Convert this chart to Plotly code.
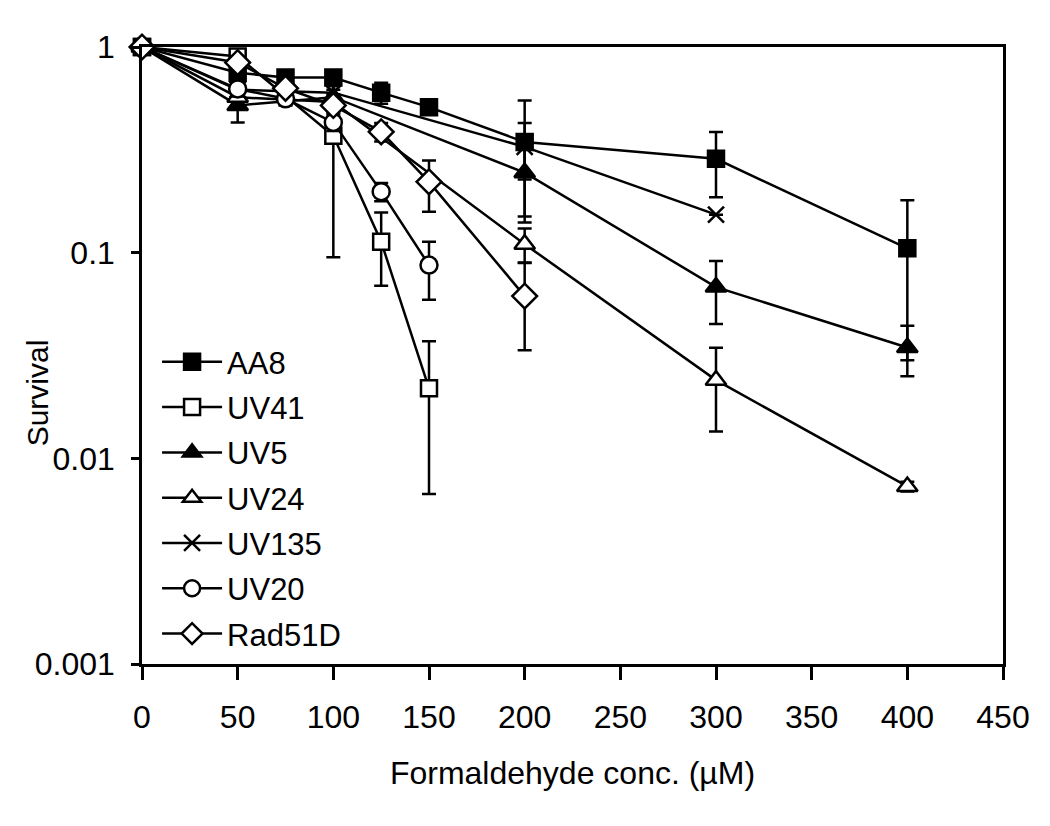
import plotly.graph_objects as go

NaN = None

# ---- data ----
x_aa8 = [0, 50, 75, 100, 125, 150, 200, 300, 400]
aa8 = [1, 0.75, 0.71, 0.71, 0.60, 0.51, 0.345, 0.286, 0.105]
aa8_err = [NaN, 0.05, 0.04, 0.05, 0.07, 0.03, 0.205, 0.10, 0.075]

x_uv41 = [0, 50, 100, 125, 150]
uv41 = [1, 0.90, 0.37, 0.113, 0.0219]
uv41_err = [NaN, 0.05, 0.275, 0.044, 0.0152]

x_uv5 = [0, 50, 100, 200, 300, 400]
uv5 = [1, 0.52, 0.57, 0.245, 0.068, 0.0346]
uv5_err = [NaN, 0.09, 0.05, 0.095, 0.023, 0.0095]

x_uv24 = [0, 50, 100, 200, 300, 400]
uv24 = [1, 0.57, 0.54, 0.11, 0.024, 0.0073]
uv24_err = [NaN, 0.05, 0.05, 0.021, 0.0105, 0.0004]

x_uv135 = [0, 50, 100, 200, 300]
uv135 = [1, 0.62, 0.60, 0.327, 0.153]
uv135_err = [NaN, 0.04, 0.05, 0.10, NaN]

x_uv20 = [0, 50, 75, 100, 125, 150]
uv20 = [1, 0.625, 0.56, 0.43, 0.198, 0.087]
uv20_err_plus = [NaN, 0.05, 0.04, 0.04, 0.02, 0.026]
uv20_err_minus = [NaN, 0.05, 0.04, 0.04, 0.02, 0.028]

x_rad51d = [0, 50, 75, 100, 125, 150, 200]
rad51d = [1, 0.84, 0.63, 0.52, 0.387, 0.221, 0.0615]
rad51d_err_plus = [NaN, 0.04, 0.04, 0.04, 0.04, 0.060, 0.028]
rad51d_err_minus = [NaN, 0.04, 0.04, 0.04, 0.04, 0.063, 0.028]

x_ticks = [0, 50, 100, 150, 200, 250, 300, 350, 400, 450]
y_ticks = [0.001, 0.01, 0.1, 1]
y_ticktext = ["0.001", "0.01", "0.1", "1"]

series = [
    ("AA8", x_aa8, aa8, aa8_err, aa8_err, "square", "black", 16),
    ("UV41", x_uv41, uv41, uv41_err, uv41_err, "square", "white", 16),
    ("UV5", x_uv5, uv5, uv5_err, uv5_err, "triangle-up", "black", 18),
    ("UV24", x_uv24, uv24, uv24_err, uv24_err, "triangle-up", "white", 18),
    ("UV135", x_uv135, uv135, uv135_err, uv135_err, "x-thin", "black", 16),
    ("UV20", x_uv20, uv20, uv20_err_plus, uv20_err_minus, "circle", "white", 17),
    ("Rad51D", x_rad51d, rad51d, rad51d_err_plus, rad51d_err_minus, "diamond", "white", 19),
]

FONT = "Liberation Sans, Arial, sans-serif"

fig = go.Figure()
for i, (name, xs, ys, ep, em, sym, fill, size) in enumerate(series):
    fig.add_trace(go.Scatter(
        x=xs, y=ys, name=name, mode="lines+markers",
        legendgroup=f"g{i}",
        line=dict(color="black", width=2.5),
        marker=dict(symbol=sym, size=size, color=fill,
                    line=dict(color="black", width=2.5)),
        error_y=dict(type="data", array=ep, arrayminus=em, symmetric=False,
                     color="black", thickness=2.5, width=7),
        cliponaxis=False,
    ))

# page has an 8px body margin; figure sized so the plot area lands at
# x 142..1003, y 47..664 in the 1050x826 window
fig.update_layout(
    width=1034, height=810,
    margin=dict(l=134, r=39, t=39, b=154),
    paper_bgcolor="white", plot_bgcolor="white",
    font=dict(family=FONT, color="black", size=31),
    showlegend=True,
    legend=dict(x=0.0175, y=0.533, xanchor="left", yanchor="top",
                bgcolor="rgba(0,0,0,0)", font=dict(size=31),
                tracegroupgap=2, itemwidth=60),
    annotations=[dict(text="Survival", textangle=-90, xref="paper", yref="paper",
                      x=-0.121, y=0.44, xanchor="center", yanchor="middle",
                      showarrow=False, font=dict(size=30))],
)
fig.update_xaxes(
    range=[0, 450], tickvals=x_ticks, ticks="outside", ticklen=13, tickwidth=2.5,
    tickcolor="black", showline=True, linecolor="black", linewidth=2.5, mirror=True,
    showgrid=False, zeroline=False, ticklabelstandoff=10,
    tickfont=dict(size=32),
    title=dict(text="Formaldehyde conc. (µM)", font=dict(size=32), standoff=28),
)
fig.update_yaxes(
    type="log", range=[-3, 0], tickvals=y_ticks, ticktext=y_ticktext,
    ticks="outside", ticklen=8, tickwidth=2.5, tickcolor="black",
    showline=True, linecolor="black", linewidth=2.5, mirror=True,
    showgrid=False, zeroline=False, ticklabelstandoff=10,
    tickfont=dict(size=32),
)

fig.write_html("out.html")
